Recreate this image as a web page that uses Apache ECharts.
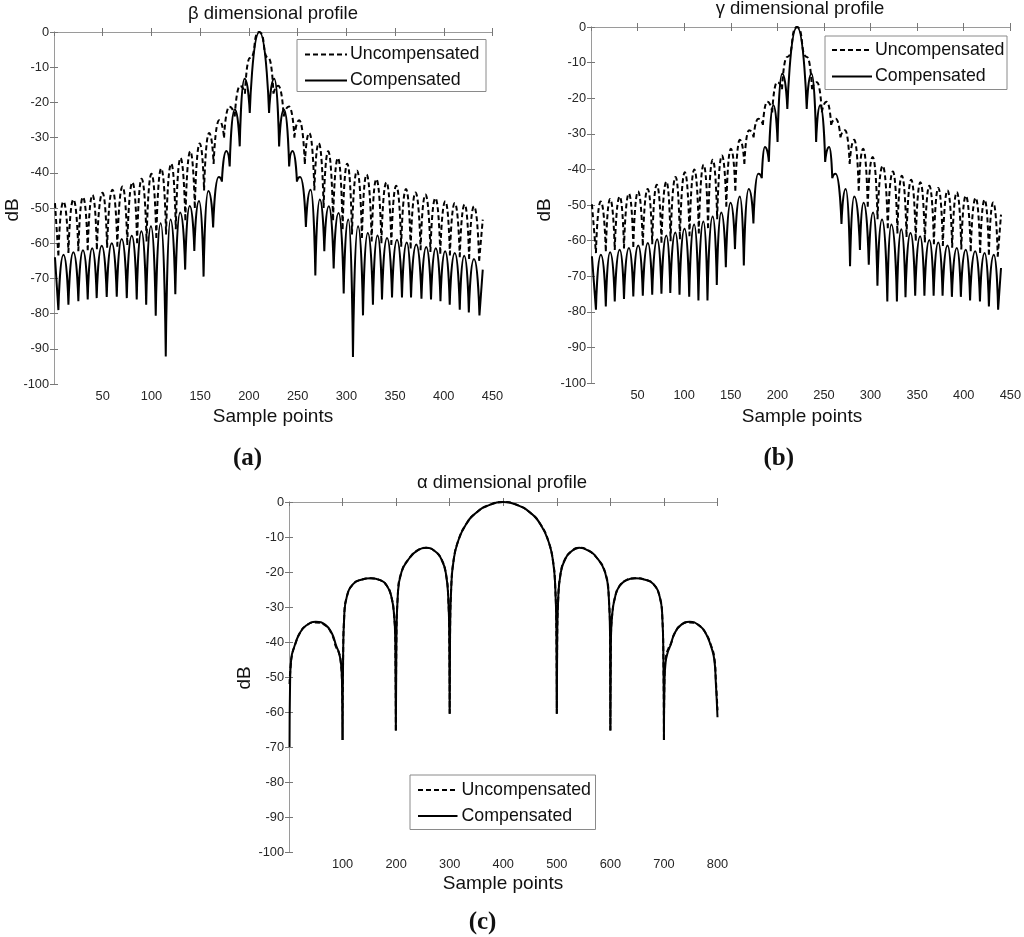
<!DOCTYPE html>
<html>
<head>
<meta charset="utf-8">
<script src="https://cdn.jsdelivr.net/npm/echarts@6/dist/echarts.min.js"></script>
<style>
html,body{margin:0;padding:0;background:#fff;}
#chart{width:1024px;height:937px;}
</style>
</head>
<body>
<div id="chart"></div>
<script>
// ---------- DATA ----------
// beta profile: knots (lobe peaks and nulls), x = sample point, y = dB
const betaCompX = [1,4.5,9.7,14.8,19.9,25,29.7,34.6,39.2,43.8,49,54.1,59.3,64.4,69.5,74.7,79.8,84.9,89.7,94.6,99.5,104.4,109.5,114.7,119.6,124.5,129.5,134.6,139.3,144,148.8,153.5,158.4,163.3,169,172.3,176.8,180.3,185.5,190.6,195.6,200.9,210.8,220.7,226,231,236,241.3,244.8,249.3,252.6,258.5,263.3,268.2,272.8,277.4,282,287,292,297.3,302,306.8,312,317.1,322,327.3,332,336.6,341.8,346.9,352,357.1,362,366.4,371.8,377.1,382,386.9,391.8,396.6,401.4,406.1,411.3,416.4,421,425.7,431,436.6,440];
const betaCompY = [-64,-79,-63.3,-77.5,-62.6,-76.5,-62,-76,-61.4,-75.6,-60.7,-75.3,-60,-75.2,-58.8,-75.6,-57.9,-76,-56.6,-77.5,-55.2,-80.6,-54.3,-92.2,-53.3,-74.5,-51.3,-67.5,-49.4,-62.2,-48,-69.5,-45.2,-55.5,-41.2,-42.5,-33.8,-38.2,-22,-32.5,-13.3,-23,0,-23,-13.3,-32.5,-22,-38.2,-33.8,-42.5,-41.2,-55.4,-44.8,-69.2,-47.6,-62.3,-49.5,-67.2,-51.4,-74.3,-53.3,-92.3,-55.2,-80.5,-57.1,-77.5,-57.8,-76,-58.5,-75.4,-59,-75.4,-59.8,-75.4,-60.4,-75.8,-61.1,-76,-61.4,-76.5,-62.3,-77.5,-62.8,-78.9,-63.6,-79.7,-64.5,-80.5,-67.5];
const betaUncX = [1,4.5,9.7,14.8,19.9,25,29.7,34.6,39.5,44,49.8,54.5,60,65,70.3,75.2,80.5,85.3,89.9,95,100,105,110,115,120.3,125,129.8,134.8,139.8,144.5,149.5,154,159.2,163.8,169.5,174.5,180,185.5,191,196,201,210.6,220.2,225.2,230.2,235.7,241.2,246.7,251.7,257.4,262,267.2,271.7,276.7,281.4,286.4,291.4,296.2,300.9,305.8,311,316,320.8,326,330.8,336,341.1,346.2,351.2,356.3,361.2,366,371,376.2,381.2,386.3,391.4,396.4,401.6,406.3,411.3,416.4,421.4,426,431,436.3,440];
const betaUncY = [-48.6,-63.5,-48.2,-62.8,-47.6,-62.3,-46.9,-62,-46.3,-61.7,-45.7,-61.3,-44.8,-61,-43.9,-60.5,-42.7,-60,-41.7,-59.5,-40.3,-58.5,-38.8,-57.5,-37.4,-56,-35.8,-53.5,-33.9,-50,-31.7,-45,-28.7,-37.5,-25.1,-30,-21.2,-24,-15.3,-17.5,-7.4,0,-7.4,-17.5,-15.3,-24,-21.2,-30,-25.1,-37.5,-28.7,-45,-31.6,-50,-33.9,-53.5,-35.8,-56,-37.4,-57.5,-39.4,-58.5,-40.5,-59.5,-41.8,-60,-42.7,-60.5,-43.7,-61,-44.6,-61.5,-45.6,-62,-46.2,-62.5,-47.2,-63,-48.1,-63.5,-48.6,-64,-49,-64.5,-49.5,-65,-53.3];

// gamma profile
const gammaCompX = [1,5.3,10.6,15.9,20.5,25.5,30.8,35.4,40.7,45.4,50.7,55.6,61,65.7,71,75.6,80.9,85.1,90.5,95,100.4,105.4,110.7,115.3,120.6,125,130.6,135,139.8,144.7,149.8,154.5,159.7,164,169.3,174.3,179.5,183.3,186.6,190.9,195.6,200.2,205.2,210.7,221.1,231.5,236.6,241.6,246,251.3,255.6,258.9,262.5,268.8,273.3,278,282.5,288.6,292.5,298.1,302.7,307.4,312.3,318,322.3,328.3,333,337.5,342.9,347.9,353.2,357.8,363.1,367.7,372.7,377.3,382.6,387.3,392.6,396.9,402.2,406.8,412.3,417.4,422.4,427,432.3,436.9,440];
const gammaCompY = [-64.4,-79.4,-64,-78.5,-63.3,-77.1,-62.6,-76.4,-62.1,-75.7,-61.4,-75.5,-60.7,-75.2,-59.6,-74.9,-58.6,-74.7,-57.7,-75.2,-56.7,-75.8,-55.5,-76.8,-54.6,-76.8,-53.2,-72.5,-52.1,-67.5,-49.4,-62.4,-47.6,-67,-45.5,-55.2,-41.2,-42.5,-33.7,-37.9,-22,-32.3,-13.1,-23,0,-23,-13.1,-32.3,-22,-37.9,-33.7,-42.5,-41.2,-55.3,-45.5,-67.2,-47.6,-62.6,-49.4,-66.8,-52.1,-72.7,-54.1,-77.1,-55.5,-77.1,-56.8,-75.9,-57.9,-75.5,-58.8,-75.5,-59.8,-75.5,-60.5,-75.5,-61.4,-75.8,-62.1,-75.8,-62.6,-76.8,-63,-77.1,-63.5,-78.5,-64,-79.4,-67.7];
const gammaUncX = [1,5.3,10.4,15.9,20.5,25.5,30.8,35.4,40.7,45.4,50.5,55.6,60.8,65.7,70.6,75.6,80.9,85.4,90.8,95.4,100.7,105.7,110.9,115.7,120.9,125.6,130.6,135.4,140.5,145.2,150.1,154.9,159.7,164.6,169.6,174.5,179.6,184.5,189.2,194.5,199.8,205,210.5,221.1,231.7,237.2,242.4,247.7,253,257.7,262.6,267.7,272.6,277.6,282.5,287.3,292.1,297,302.3,307.5,313,318.5,324,328.8,333.6,338.6,343.6,348.5,353.5,358.3,363.1,368,372.7,377.6,382.6,387.6,392.6,397.4,402.2,407.5,412.8,417.6,422.4,427,431.6,436.5,440];
const gammaUncY = [-49.8,-63.5,-49,-63,-48.3,-62.6,-47.6,-62.2,-46.8,-61.8,-46.2,-61.4,-45.5,-61,-44.3,-60.6,-43.4,-60.2,-42.1,-59.6,-40.8,-58.8,-40,-58,-38.7,-56.5,-37.3,-54,-36.1,-50.5,-34.2,-46,-31.7,-38.5,-29,-31,-25.8,-27.5,-21,-24,-15.5,-17.5,-8.4,0,-8.4,-17.5,-15.5,-24,-21,-27.5,-25.8,-31,-29,-38.5,-31.7,-46,-34.2,-50.5,-36.5,-54,-39,-56.5,-40.6,-58,-41.8,-59,-42.9,-60,-43.6,-60.5,-44.6,-61,-45.2,-61.5,-45.9,-62,-46.4,-62.5,-47.4,-63,-48,-63.5,-48.5,-64,-49.3,-64.5,-52.7];

// alpha profile
const alphaCompX = [1,2,4,10,20,32,50,68,80,88,93,97,99,100,101,103,108,120,135,153,170,183,191,196,198.5,199.5,200.5,203,210,225,240,256,272,285,293,297.5,299.3,300,300.7,303,307,315,330,350,375,400,425,450,470,485,493,497,499.3,500,500.7,502.5,507,515,528,542,558,575,590,597,599.5,600,601,603.5,609,617,630,646,665,680,692,697,699,700,701,703,707,712,720,732,748,766,778,788,794,797,800];
const alphaCompY = [-70,-52,-45,-41.3,-37.5,-35.3,-34.2,-35.1,-37.5,-41,-43,-46,-52,-68,-45,-33,-27,-23.4,-22.2,-21.8,-22.3,-24,-27,-32,-40,-65.3,-40,-27,-20,-16,-13.8,-13.1,-14,-16.5,-20.5,-28,-40,-60.5,-38,-24,-17,-11.5,-6.5,-3,-0.8,0,-0.8,-3,-6.5,-11.5,-17,-24,-38,-60.5,-40,-28,-20.5,-16.5,-14,-13.1,-13.8,-16,-20,-27,-40,-65.3,-40,-32,-27,-24,-22.3,-21.8,-22.2,-23.4,-27,-33,-45,-68,-52,-46,-43,-41,-37.5,-35.1,-34.2,-35.3,-37.5,-41.3,-45,-52,-61.5];
const alphaUncX = [1,3,6,12,20,32,50,68,80,88,92,96,99,100,101,103,108,120,135,153,170,183,191,196,198.5,199.5,200.5,203,210,225,240,256,272,285,293,297.5,299.3,300,300.7,303,307,315,330,350,375,400,425,450,470,485,493,497,499.3,500,500.7,502.5,507,515,528,542,558,575,590,597,599.5,600,601,603.5,609,617,630,646,665,680,692,697,699,700,701,704,708,713,720,732,748,766,778,788,794,797,800];
const alphaUncY = [-52,-47,-43.5,-40.5,-37.5,-35.3,-34.4,-35.3,-37.8,-41.5,-42.5,-45,-52,-68,-45,-33,-27,-23.4,-22.2,-21.8,-22.3,-24,-27,-32,-40,-65.3,-40,-27,-20,-16,-13.8,-13.1,-14,-16.5,-20.5,-28,-40,-60.5,-38,-24,-17,-11.5,-6.5,-3,-0.8,0,-0.8,-3,-6.5,-11.5,-17,-24,-38,-60.5,-40,-28,-20.5,-16.5,-14,-13.1,-13.8,-16,-20,-27,-40,-65.3,-40,-32,-27,-24,-22.3,-21.8,-22.2,-23.4,-27,-33,-45,-68,-50,-44,-42,-40.5,-37.5,-35.1,-34.4,-35.3,-37.5,-41,-44.5,-51,-59.5];

const seriesNames = ['Uncompensated', 'Compensated'];
const yTicks = {min: -100, max: 0, interval: 10};
const xTicksAB = {min: 0, max: 450, interval: 50};
const xTicksC = {min: 0, max: 800, interval: 100};

// ---------- helpers ----------
// split the knot list into lobes at each null so each lobe is drawn as its own smooth arch
function lobes(xs, ys) {
  const out = [];
  for (let i = 0; i < xs.length; i++) {
    out.push([xs[i], ys[i]]);
    if (i > 0 && i < xs.length - 1 && ys[i] < ys[i - 1] && ys[i] < ys[i + 1]) {
      out.push([xs[i], '-']);
      out.push([xs[i], ys[i]]);
    }
  }
  return out;
}

const FONT = '"Liberation Sans", Arial, sans-serif';
const AX = '#9a9a9a';
const grids = [
  {left: 54, top: 32, width: 438.5, height: 352},
  {left: 591, top: 27, width: 422, height: 356},
  {left: 289, top: 502, width: 428.5, height: 350}
];

const xAxes = [], yAxes = [];
function addAxes(gi, xt) {
  const common = {
    axisLine: {show: true, lineStyle: {color: AX, width: 1}},
    axisTick: {show: true, inside: true, length: 4, lineStyle: {color: '#777'}},
    splitLine: {show: false}
  };
  xAxes.push(Object.assign({type: 'value', gridIndex: gi, position: 'bottom',
    min: xt.min, max: xt.max, interval: xt.interval,
    axisLabel: {showMinLabel: false, margin: 6, fontSize: 12.8, color: '#262626', fontFamily: FONT}}, common));
  xAxes.push(Object.assign({type: 'value', gridIndex: gi, position: 'top',
    min: xt.min, max: xt.max, interval: xt.interval, axisLabel: {show: false}}, common));
  yAxes.push(Object.assign({type: 'value', gridIndex: gi, position: 'left',
    min: yTicks.min, max: yTicks.max, interval: yTicks.interval,
    axisLabel: {margin: 5, fontSize: 12.8, color: '#262626', fontFamily: FONT}}, common));
  yAxes.push(Object.assign({type: 'value', gridIndex: gi, position: 'right',
    min: yTicks.min, max: yTicks.max, interval: yTicks.interval, axisLabel: {show: false}}, common));
}
addAxes(0, xTicksAB);
addAxes(1, xTicksAB);
addAxes(2, xTicksC);

const DASH = [5, 3];
function mkSeries(name, gi, xs, ys, dashed, mono) {
  return {
    name: name, type: 'line', xAxisIndex: gi * 2, yAxisIndex: gi * 2,
    data: lobes(xs, ys), showSymbol: false, symbol: 'none',
    smooth: mono ? 0.7 : 0.5, smoothMonotone: mono ? 'x' : undefined,
    connectNulls: false, animation: false, silent: true,
    lineStyle: {color: '#000', width: 2, type: dashed ? DASH : 'solid'},
    itemStyle: {color: '#000'}
  };
}

const series = [
  mkSeries(seriesNames[0], 0, betaUncX, betaUncY, true, true),
  mkSeries(seriesNames[1], 0, betaCompX, betaCompY, false, true),
  mkSeries(seriesNames[0], 1, gammaUncX, gammaUncY, true, true),
  mkSeries(seriesNames[1], 1, gammaCompX, gammaCompY, false, true),
  mkSeries(seriesNames[0], 2, alphaUncX, alphaUncY, true, false),
  mkSeries(seriesNames[1], 2, alphaCompX, alphaCompY, false, false)
];

function txt(t, x, y, font, rot, align) {
  return {type: 'text', x: x, y: y, rotation: rot || 0, silent: true, z: 20,
    style: {text: t, font: font, fill: '#111', textAlign: align || 'center', textVerticalAlign: 'middle'}};
}
const tFont = '18.5px ' + FONT;
const nFont = '19px ' + FONT;
const lFont = '17.8px ' + FONT;
const pFont = 'bold 25px "Liberation Serif", "Times New Roman", serif';

// legend box drawn as graphics: box [x0,y0,x1,y1], line x-range, text x, row y's
function legendBox(x0, y0, x1, y1, lx0, lx1, tx, r1, r2) {
  return [
    {type: 'rect', shape: {x: x0, y: y0, width: x1 - x0, height: y1 - y0}, silent: true, z: 19,
      style: {fill: '#fff', stroke: '#8a8a8a', lineWidth: 1}},
    {type: 'line', shape: {x1: lx0, y1: r1, x2: lx1, y2: r1}, silent: true, z: 20,
      style: {stroke: '#000', lineWidth: 2, lineDash: DASH}},
    {type: 'line', shape: {x1: lx0, y1: r2, x2: lx1, y2: r2}, silent: true, z: 20,
      style: {stroke: '#000', lineWidth: 2}},
    txt(seriesNames[0], tx, r1, lFont, 0, 'left'),
    txt(seriesNames[1], tx, r2, lFont, 0, 'left')
  ];
}

const option = {
  animation: false,
  backgroundColor: '#fff',
  grid: grids,
  xAxis: xAxes,
  yAxis: yAxes,
  series: series,
  graphic: [
    txt('\u03b2 dimensional profile', 273, 14, tFont),
    txt('\u03b3 dimensional profile', 800, 9, tFont),
    txt('\u03b1 dimensional profile', 502, 483, tFont),
    txt('Sample points', 273, 417, nFont),
    txt('Sample points', 802, 417, nFont),
    txt('Sample points', 503, 884, nFont),
    txt('dB', 13, 210, nFont, Math.PI / 2),
    txt('dB', 545, 210, nFont, Math.PI / 2),
    txt('dB', 245, 678, nFont, Math.PI / 2),
    txt('(a)', 247.5, 459, pFont),
    txt('(b)', 778.7, 459, pFont),
    txt('(c)', 482.5, 923, pFont)
  ].concat(
    legendBox(297, 39.5, 486, 91.5, 305, 347, 350, 54.5, 80.5),
    legendBox(825, 36, 1007, 89.5, 832, 872, 875, 50, 76.5),
    legendBox(410, 775, 595.5, 829.5, 418, 457.5, 461.5, 790, 816)
  )
};

const chart = echarts.init(document.getElementById('chart'), null, {renderer: 'canvas'});
chart.setOption(option);
</script>
</body>
</html>
